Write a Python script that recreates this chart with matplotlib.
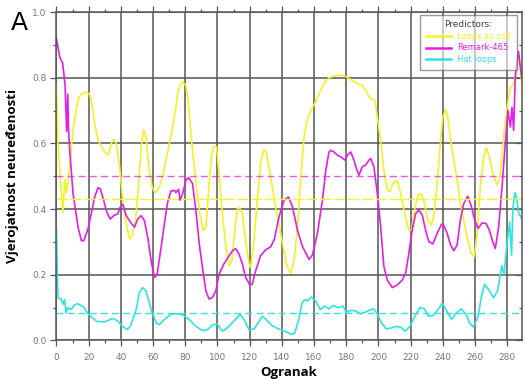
import matplotlib
matplotlib.use("Agg")
import matplotlib.pyplot as plt
from matplotlib.ticker import MultipleLocator
from matplotlib.lines import Line2D

# ---------------- data ----------------
loops_x = [0, 1, 2.5, 4, 5.2, 6.2, 7, 8.2, 9.5, 10.5, 12.5, 14, 16, 18.5, 20.5, 22, 23.7, 25.8, 27.8, 29.9,
           31.5, 32.6, 34, 35.5, 37.1, 39.2, 41.2, 43.3, 45.4, 47, 49.1, 51.1, 52.6, 54.2, 55.7, 57.3, 59.4,
           61.4, 63.9, 66, 68, 70.1, 72.2, 74.2, 75.7, 77, 78.4, 80.4, 82, 84.1, 86.6, 89.1, 91.1, 92.8, 94.8,
           96.5, 97.9, 99.4, 101, 103.1, 105.2, 107.2, 108.9, 110.3, 112.4, 113.8, 115.5, 117.5, 119.6, 120.6,
           122.7, 124.7, 126.8, 128.9, 130.3, 133, 136, 138, 141, 143, 145.6, 147.6, 149.7, 151.8, 153.8, 155.9,
           158, 161, 163.1, 166.2, 169.3, 173.5, 178.6, 182.8, 186.9, 190, 193.1, 195.2, 197.9, 199.3, 201.4,
           203.4, 205.5, 207, 209, 211.7, 213.8, 215.8, 218.9, 220.6, 222.4, 224.5, 226.6, 228.6, 230.7, 232.8,
           234.4, 236.5, 238.6, 240, 241.7, 243.1, 244.8, 246.8, 248.9, 250.9, 253, 255.5, 257.6, 259.6, 261.3,
           263.3, 265.4, 267.1, 268.9, 271, 273.7, 275.7, 277.8, 279.9, 282, 284, 285.5, 287, 288, 289]
loops_y = [0.78, 0.60, 0.48, 0.39, 0.49, 0.45, 0.48, 0.53, 0.60, 0.65, 0.71, 0.74, 0.752, 0.757, 0.75, 0.72, 0.66,
           0.61, 0.59, 0.575, 0.565, 0.568, 0.60, 0.612, 0.60, 0.529, 0.427, 0.355, 0.309, 0.319, 0.365, 0.478,
           0.59, 0.641, 0.62, 0.529, 0.467, 0.449, 0.467, 0.498, 0.549, 0.60, 0.65, 0.71, 0.762, 0.78, 0.788,
           0.775, 0.72, 0.60, 0.478, 0.386, 0.335, 0.345, 0.478, 0.57, 0.592, 0.59, 0.508, 0.386, 0.284, 0.228,
           0.243, 0.314, 0.401, 0.404, 0.386, 0.304, 0.233, 0.222, 0.304, 0.427, 0.539, 0.582, 0.574, 0.50,
           0.41, 0.36, 0.28, 0.23, 0.205, 0.245, 0.346, 0.498, 0.62, 0.675, 0.70, 0.726, 0.751, 0.782, 0.80,
           0.807, 0.807, 0.794, 0.782, 0.777, 0.751, 0.736, 0.731, 0.68, 0.61, 0.518, 0.458, 0.453, 0.478,
           0.488, 0.448, 0.397, 0.336, 0.336, 0.397, 0.443, 0.448, 0.417, 0.367, 0.351, 0.377, 0.478, 0.61,
           0.68, 0.703, 0.68, 0.61, 0.549, 0.488, 0.417, 0.367, 0.306, 0.265, 0.255, 0.326, 0.468, 0.559,
           0.587, 0.559, 0.508, 0.473, 0.508, 0.62, 0.71, 0.77, 0.78, 0.82, 0.86, 0.83, 0.78]

remark_x = [0, 1, 2.2, 3.8, 5.3, 6.3, 7.0, 7.5, 8.2, 10.3, 13.4, 15.5, 17, 19.6, 21.6, 23.7, 25.8, 27.2, 29.3, 31.3,
            33.4, 35.5, 38.1, 39.6, 41.2, 43.3, 46.4, 48.5, 50.5, 52.6, 54.6, 56.7, 58.8, 60.8, 62.5, 65, 67, 69,
            71.1, 73.2, 74.2, 75.9, 76.7, 78.4, 80.4, 82, 84.5, 86.6, 88.7, 90.7, 92.8, 94.8, 96.9, 99, 101, 104,
            107.2, 109.3, 111.3, 113.4, 115.5, 117.5, 120, 121.6, 123.7, 126.8, 129.9, 133, 135.2, 138.3, 141.4,
            144.1, 146.6, 149.7, 152.8, 156.9, 159, 162.1, 165.2, 167.3, 169.3, 170.4, 172.4, 174.5, 176.6,
            179.3, 180.7, 182.8, 184.8, 186.3, 187.9, 190, 192.1, 194.1, 195.2, 197.2, 199.3, 201.4, 203.4,
            205.5, 208.6, 211.7, 214.8, 216.9, 218.9, 221, 223.1, 225.1, 227.2, 229.3, 231.3, 233.8, 236.5,
            239.2, 240.6, 242.7, 244.8, 246.8, 248.9, 250.9, 253, 255.5, 257.8, 259.8, 261.9, 264.4, 266.9,
            268.9, 271, 272.6, 274.7, 276.8, 278.8, 280.5, 282, 283, 284, 285, 286, 287, 288, 289]
remark_y = [0.92, 0.89, 0.86, 0.845, 0.78, 0.636, 0.75, 0.64, 0.58, 0.447, 0.345, 0.304, 0.304, 0.34, 0.386,
            0.437, 0.465, 0.462, 0.427, 0.39, 0.37, 0.38, 0.386, 0.406, 0.414, 0.38, 0.357, 0.345, 0.37, 0.38,
            0.365, 0.314, 0.243, 0.192, 0.20, 0.284, 0.355, 0.42, 0.455, 0.457, 0.45, 0.46, 0.427, 0.447, 0.488,
            0.496, 0.478, 0.396, 0.294, 0.222, 0.151, 0.126, 0.131, 0.151, 0.202, 0.233, 0.258, 0.273, 0.28,
            0.263, 0.233, 0.192, 0.17, 0.171, 0.212, 0.258, 0.276, 0.285, 0.306, 0.377, 0.427, 0.437, 0.407,
            0.336, 0.286, 0.247, 0.26, 0.326, 0.427, 0.518, 0.574, 0.579, 0.574, 0.564, 0.559, 0.549, 0.564,
            0.574, 0.549, 0.524, 0.503, 0.529, 0.534, 0.549, 0.554, 0.529, 0.448, 0.346, 0.225, 0.184, 0.161,
            0.169, 0.184, 0.205, 0.265, 0.336, 0.386, 0.397, 0.382, 0.336, 0.301, 0.294, 0.326, 0.354, 0.351,
            0.326, 0.291, 0.273, 0.291, 0.367, 0.417, 0.439, 0.407, 0.367, 0.341, 0.358, 0.356, 0.336, 0.301,
            0.28, 0.346, 0.468, 0.60, 0.70, 0.65, 0.71, 0.64, 0.80, 0.85, 0.88, 0.84, 0.80]

hot_x = [0, 0.5, 1, 3, 4, 5, 6, 7, 9, 11, 13, 16.5, 20, 25, 30, 35, 38, 41, 44, 46, 49.5, 51.5, 53.6, 55.7, 58.8,
         62, 64, 67, 71, 74, 78, 82.5, 86.6, 90.7, 93.8, 97, 100, 103, 106, 110, 114, 116.5, 119.6, 122.7, 125.8,
         128, 131, 134, 138, 142, 146, 148, 150.5, 152.6, 154.6, 155.7, 158.4, 161, 164, 166.6, 169, 172, 175,
         178, 180, 182.5, 185.5, 188.7, 191.8, 195, 197, 199, 202, 205, 208, 211, 214, 216.5, 219.6, 222.7,
         225.8, 228.5, 231, 234, 237, 239.6, 242, 245.4, 248.5, 251.5, 254.6, 256.7, 259, 261.9, 264, 266, 269,
         271.5, 274, 276.7, 278, 280, 281.5, 282.7, 283.5, 284.8, 286, 287, 289]
hot_y = [0.34, 0.20, 0.13, 0.125, 0.11, 0.125, 0.084, 0.10, 0.094, 0.107, 0.112, 0.103, 0.079, 0.058, 0.057,
         0.067, 0.06, 0.043, 0.033, 0.045, 0.094, 0.146, 0.161, 0.15, 0.094, 0.053, 0.048, 0.064, 0.079, 0.082,
         0.079, 0.064, 0.043, 0.03, 0.033, 0.048, 0.05, 0.028, 0.038, 0.058, 0.079, 0.064, 0.033, 0.035, 0.058,
         0.074, 0.06, 0.045, 0.035, 0.028, 0.019, 0.023, 0.064, 0.115, 0.125, 0.12, 0.132, 0.12, 0.094, 0.105,
         0.096, 0.107, 0.10, 0.105, 0.086, 0.091, 0.091, 0.081, 0.086, 0.094, 0.096, 0.084, 0.053, 0.035,
         0.038, 0.043, 0.04, 0.028, 0.043, 0.074, 0.10, 0.097, 0.074, 0.076, 0.094, 0.113, 0.094, 0.064,
         0.084, 0.096, 0.079, 0.053, 0.041, 0.074, 0.135, 0.171, 0.151, 0.13, 0.151, 0.228, 0.20, 0.30, 0.36,
         0.26, 0.40, 0.45, 0.43, 0.39, 0.37]

series_labels = ["Loops as coil", "Remark-465", "Hot loops"]
thresholds = [0.43, 0.5, 0.085]
x_ticks = list(range(0, 281, 20))
y_ticks = [0.0, 0.2, 0.4, 0.6, 0.8, 1.0]

c_yellow = "#F2F226"
c_magenta = "#E41FE4"
c_cyan = "#30E3E3"
colors = [c_yellow, c_magenta, c_cyan]
grid_c = "#555555"
tick_c = "#777777"

# ---------------- figure ----------------
fig = plt.figure(figsize=(5.26, 3.79), dpi=100)
ax = fig.add_axes([0.1074, 0.1016, 0.8844, 0.8667])

ax.set_xlim(0, 289)
ax.set_ylim(0, 1.0)

ax.set_xticks(x_ticks)
ax.set_yticks(y_ticks)
ax.set_yticklabels([f"{v:.1f}" for v in y_ticks])
ax.xaxis.set_minor_locator(MultipleLocator(10))
ax.yaxis.set_minor_locator(MultipleLocator(0.1))

ax.grid(True, which="major", color=grid_c, linewidth=1.1)
ax.set_axisbelow(True)

for s in ax.spines.values():
    s.set_color(grid_c)
    s.set_linewidth(1.1)

ax.tick_params(axis="both", which="both", colors=grid_c, labelcolor=tick_c, labelsize=6.5, width=0.9)
ax.tick_params(axis="x", which="both", top=True, direction="out")
ax.tick_params(axis="y", which="both", right=True, direction="out")
ax.tick_params(axis="x", which="major", length=4, pad=5)
ax.tick_params(axis="x", which="minor", length=2.5)
ax.tick_params(axis="y", which="major", length=4, pad=3)
ax.tick_params(axis="y", which="minor", length=2.5)
for t in ax.yaxis.get_ticklines(minor=False)[1::2] + ax.yaxis.get_ticklines(minor=True)[1::2]:
    t.set_marker(0)  # right side ticks pointing inward

ax.plot(loops_x, loops_y, color=c_yellow, lw=1.2)
ax.plot(remark_x, remark_y, color=c_magenta, lw=1.2)
ax.plot(hot_x, hot_y, color=c_cyan, lw=1.2)

ax.axhline(thresholds[0], color=c_yellow, lw=1.0, ls=(0, (8, 2)))
ax.axhline(thresholds[1], color=c_magenta, lw=1.0, ls=(0, (5, 3)), alpha=0.75)
ax.axhline(thresholds[2], color=c_cyan, lw=1.0, ls=(0, (5, 3)))

handles = [Line2D([], [], color=c, lw=1.8) for c in colors]
leg = ax.legend(handles, series_labels, loc="upper right", bbox_to_anchor=(0.99, 0.992),
                title="Predictors:", fontsize=6, title_fontsize=6.5, frameon=True, fancybox=False,
                edgecolor=grid_c, facecolor="white", framealpha=0.6,
                handlelength=3.0, handletextpad=0.8, labelspacing=0.3,
                borderpad=0.7, borderaxespad=0.0)
leg.set_zorder(10)
leg.get_frame().set_linewidth(1.0)
leg.get_title().set_color("#444444")
for txt, col in zip(leg.get_texts(), colors):
    txt.set_color(col)

ax.set_xlabel("Ogranak", fontsize=9.5, fontweight="bold", family="Open Sans", labelpad=3)
ax.set_ylabel("Vjerojatnost neuređenosti", fontsize=9.5, fontweight="bold", family="Open Sans", labelpad=10)

fig.text(0.036, 0.94, "A", fontsize=18, color="black", ha="center", va="center")

fig.savefig("out.png", dpi=100)
